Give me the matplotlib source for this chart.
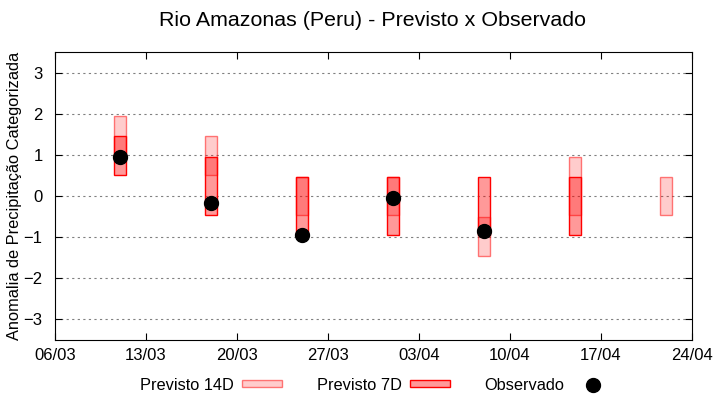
import matplotlib
matplotlib.use("Agg")
import matplotlib.pyplot as plt
import matplotlib.dates as mdates
from matplotlib.patches import Patch
from matplotlib.lines import Line2D
from datetime import datetime

plt.rcParams['font.family'] = ['Liberation Sans', 'DejaVu Sans']

# Datas das previsões (semanas)
datas = ["2025-03-11", "2025-03-18", "2025-03-25", "2025-04-01",
         "2025-04-08", "2025-04-15", "2025-04-22"]

# Faixas previstas (mínimo, máximo)
prev14_min = [0.95, 0.50, -0.45, -0.45, -1.45, -0.45, -0.45]
prev14_max = [1.95, 1.45, 0.45, 0.45, -0.50, 0.95, 0.45]
prev7_min = [0.50, -0.45, -0.95, -0.95, -0.95, -0.95, None]
prev7_max = [1.45, 0.95, 0.45, 0.45, 0.45, 0.45, None]

# Observado (None = sem dado)
observado = [0.95, -0.18, -0.95, -0.05, -0.85, None, None]

xticks = ["2025-03-06", "2025-03-13", "2025-03-20", "2025-03-27",
          "2025-04-03", "2025-04-10", "2025-04-17", "2025-04-24"]

x = [datetime.strptime(d, "%Y-%m-%d") for d in datas]
xt = [datetime.strptime(d, "%Y-%m-%d") for d in xticks]

fig = plt.figure(figsize=(7.2, 4), dpi=100)
ax = fig.add_axes([0.0764, 0.15, 0.8847, 0.72])

# Previsto 14D
h14 = [b - a for a, b in zip(prev14_min, prev14_max)]
ax.bar(x, h14, bottom=prev14_min, width=0.92, color=(1, 0, 0, 0.2),
       edgecolor=(1, 0, 0, 0.5), linewidth=1.0, zorder=2)

# Previsto 7D
x7 = [xi for xi, v in zip(x, prev7_min) if v is not None]
b7 = [v for v in prev7_min if v is not None]
h7 = [b - a for a, b in zip(prev7_min, prev7_max) if a is not None]
ax.bar(x7, h7, bottom=b7, width=0.92, color=(1, 0, 0, 0.4),
       edgecolor='red', linewidth=1.0, zorder=3)

# Observado
xo = [xi for xi, v in zip(x, observado) if v is not None]
yo = [v for v in observado if v is not None]
ax.plot(xo, yo, 'o', color='black', markersize=10, zorder=4)

ax.set_xlim(xt[0], xt[-1])
ax.set_ylim(-3.5, 3.5)
ax.set_xticks(xt)
ax.xaxis.set_major_formatter(mdates.DateFormatter("%d/%m"))
ax.set_yticks(range(-3, 4))
ax.tick_params(direction='in', top=True, right=True, labelsize=12, length=5, pad=6)
ax.tick_params(axis='y', pad=9)
ax.grid(axis='y', color='gray', linestyle=(0, (2, 3)), linewidth=0.8)
ax.set_axisbelow(True)

ax.set_ylabel("Anomalia de Precipitação Categorizada", fontsize=11.8)
ax.yaxis.set_label_coords(-0.052, 0.5)
fig.text(0.518, 0.948, "Rio Amazonas (Peru) - Previsto x Observado",
         fontsize=15.4, ha='center', va='center')

handles = [Patch(facecolor=(1, 0, 0, 0.2), edgecolor=(1, 0, 0, 0.5)),
           Patch(facecolor=(1, 0, 0, 0.4), edgecolor='red'),
           Line2D([], [], marker='o', color='black', linestyle='none', markersize=10)]
labels = ["Previsto 14D", "Previsto 7D", "Observado"]
leg = fig.legend(handles, labels, loc='center', bbox_to_anchor=(0.523, 0.037), ncol=3,
                 frameon=False, markerfirst=False, fontsize=11.8, handlelength=2.45,
                 handleheight=0.3, columnspacing=2.1, handletextpad=0.5)

fig.savefig("out.png", dpi=100)
